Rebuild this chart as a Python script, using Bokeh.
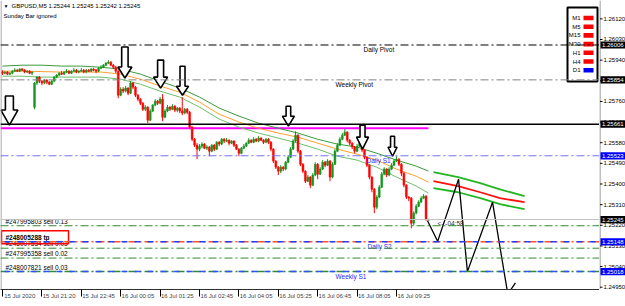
import numpy as np
from bokeh.plotting import figure
from bokeh.layouts import row
from bokeh.models import Range1d, LinearAxis, FixedTicker, Span
from bokeh.core.properties import value
from bokeh.embed import file_html
from bokeh.resources import INLINE

# ---------------- data ----------------
symbol_title = "GBPUSD,M5  1.25244 1.25245 1.25242 1.25245"
indicator_note = "Sunday Bar ignored"

time_tick_bars = [0, 16, 32, 48, 64, 80, 96, 112, 128, 144, 160]
time_tick_labels = ["15 Jul 2020", "15 Jul 21:20", "15 Jul 22:45", "16 Jul 00:05",
                    "16 Jul 01:25", "16 Jul 02:45", "16 Jul 04:05", "16 Jul 05:25",
                    "16 Jul 06:45", "16 Jul 08:05", "16 Jul 09:25"]
price_ticks = [1.26120, 1.26030, 1.25940, 1.25850, 1.25760, 1.25670, 1.25580,
               1.25490, 1.25400, 1.25310, 1.25220, 1.25130, 1.25040, 1.24950]

closes = [
    1.25883, 1.25888, 1.25879, 1.25883, 1.25892, 1.25896, 1.25892, 1.25901, 1.25896, 1.25888,
    1.25892, 1.25883, 1.25888, 1.25840, 1.25866, 1.25848, 1.25840, 1.25853, 1.25844, 1.25835,
    1.25848, 1.25866, 1.25875, 1.25883, 1.25879, 1.25888, 1.25892, 1.25883, 1.25892, 1.25896,
    1.25888, 1.25892, 1.25896, 1.25888, 1.25896, 1.25892, 1.25901, 1.25896, 1.25892, 1.25905,
    1.25909, 1.25918, 1.25927, 1.25931, 1.25918, 1.25909, 1.25892, 1.25787, 1.25813, 1.25805,
    1.25818, 1.25796, 1.25840, 1.25822, 1.25787, 1.25770, 1.25752, 1.25726, 1.25735, 1.25678,
    1.25718, 1.25744, 1.25761, 1.25752, 1.25770, 1.25691, 1.25718, 1.25735, 1.25726, 1.25739,
    1.25722, 1.25731, 1.25718, 1.25709, 1.25726, 1.25713, 1.25648, 1.25595, 1.25569, 1.25552,
    1.25565, 1.25574, 1.25556, 1.25561, 1.25543, 1.25569, 1.25552, 1.25582, 1.25574, 1.25595,
    1.25587, 1.25591, 1.25578, 1.25587, 1.25569, 1.25552, 1.25534, 1.25556, 1.25565, 1.25578,
    1.25591, 1.25582, 1.25595, 1.25587, 1.25600, 1.25591, 1.25582, 1.25595, 1.25582, 1.25552,
    1.25500, 1.25473, 1.25456, 1.25473, 1.25465, 1.25495, 1.25517, 1.25552, 1.25587, 1.25613,
    1.25543, 1.25486, 1.25456, 1.25412, 1.25430, 1.25395, 1.25439, 1.25486, 1.25443, 1.25465,
    1.25495, 1.25482, 1.25500, 1.25430, 1.25486, 1.25543, 1.25569, 1.25595, 1.25613, 1.25626,
    1.25591, 1.25578, 1.25561, 1.25543, 1.25565, 1.25578, 1.25548, 1.25517, 1.25482, 1.25430,
    1.25377, 1.25299, 1.25343, 1.25386, 1.25443, 1.25465, 1.25439, 1.25465, 1.25482, 1.25500,
    1.25508, 1.25486, 1.25447, 1.25395, 1.25343, 1.25338, 1.25229, 1.25273, 1.25303, 1.25321,
    1.25338, 1.25347, 1.25244, 1.25245]
highs = [
    1.25896, 1.25892, 1.25892, 1.25888, 1.25896, 1.25905, 1.25901, 1.25905, 1.25905, 1.25901,
    1.25896, 1.25896, 1.25892, 1.25844, 1.25870, 1.25870, 1.25853, 1.25857, 1.25857, 1.25848,
    1.25853, 1.25870, 1.25879, 1.25888, 1.25892, 1.25892, 1.25901, 1.25896, 1.25896, 1.25905,
    1.25901, 1.25896, 1.25905, 1.25901, 1.25901, 1.25901, 1.25905, 1.25905, 1.25901, 1.25909,
    1.25918, 1.25923, 1.25931, 1.25940, 1.25936, 1.25923, 1.25914, 1.25896, 1.25822, 1.25822,
    1.25827, 1.25822, 1.25848, 1.25844, 1.25827, 1.25792, 1.25774, 1.25757, 1.25744, 1.25739,
    1.25726, 1.25748, 1.25770, 1.25766, 1.25779, 1.25792, 1.25726, 1.25744, 1.25739, 1.25748,
    1.25744, 1.25735, 1.25735, 1.25779, 1.25731, 1.25731, 1.25718, 1.25652, 1.25600, 1.25578,
    1.25574, 1.25582, 1.25578, 1.25569, 1.25565, 1.25574, 1.25574, 1.25587, 1.25587, 1.25600,
    1.25600, 1.25600, 1.25595, 1.25591, 1.25591, 1.25574, 1.25556, 1.25561, 1.25574, 1.25582,
    1.25600, 1.25595, 1.25604, 1.25600, 1.25609, 1.25604, 1.25595, 1.25600, 1.25600, 1.25587,
    1.25556, 1.25504, 1.25478, 1.25482, 1.25478, 1.25500, 1.25526, 1.25561, 1.25595, 1.25630,
    1.25617, 1.25548, 1.25491, 1.25460, 1.25439, 1.25434, 1.25447, 1.25495, 1.25491, 1.25473,
    1.25504, 1.25500, 1.25508, 1.25504, 1.25495, 1.25552, 1.25578, 1.25604, 1.25622, 1.25639,
    1.25630, 1.25595, 1.25582, 1.25565, 1.25574, 1.25582, 1.25582, 1.25552, 1.25521, 1.25486,
    1.25434, 1.25382, 1.25351, 1.25395, 1.25452, 1.25473, 1.25469, 1.25473, 1.25491, 1.25508,
    1.25521, 1.25513, 1.25491, 1.25452, 1.25399, 1.25347, 1.25343, 1.25281, 1.25312, 1.25329,
    1.25347, 1.25356, 1.25351, 1.25245]
lows = [
    1.25875, 1.25879, 1.25875, 1.25875, 1.25879, 1.25888, 1.25888, 1.25888, 1.25892, 1.25883,
    1.25883, 1.25879, 1.25875, 1.25726, 1.25831, 1.25840, 1.25831, 1.25835, 1.25835, 1.25831,
    1.25831, 1.25844, 1.25861, 1.25870, 1.25875, 1.25875, 1.25883, 1.25879, 1.25879, 1.25888,
    1.25883, 1.25883, 1.25888, 1.25883, 1.25883, 1.25888, 1.25888, 1.25892, 1.25883, 1.25888,
    1.25901, 1.25905, 1.25914, 1.25923, 1.25914, 1.25901, 1.25883, 1.25774, 1.25783, 1.25796,
    1.25800, 1.25787, 1.25792, 1.25813, 1.25779, 1.25761, 1.25744, 1.25718, 1.25718, 1.25665,
    1.25674, 1.25713, 1.25739, 1.25744, 1.25748, 1.25674, 1.25687, 1.25713, 1.25718, 1.25722,
    1.25713, 1.25713, 1.25709, 1.25700, 1.25704, 1.25704, 1.25639, 1.25587, 1.25561, 1.25508,
    1.25543, 1.25556, 1.25552, 1.25548, 1.25521, 1.25539, 1.25543, 1.25548, 1.25565, 1.25569,
    1.25578, 1.25582, 1.25569, 1.25574, 1.25561, 1.25548, 1.25521, 1.25530, 1.25552, 1.25561,
    1.25574, 1.25578, 1.25578, 1.25582, 1.25582, 1.25587, 1.25574, 1.25578, 1.25574, 1.25543,
    1.25491, 1.25465, 1.25439, 1.25447, 1.25456, 1.25460, 1.25491, 1.25513, 1.25548, 1.25582,
    1.25534, 1.25478, 1.25447, 1.25404, 1.25408, 1.25382, 1.25391, 1.25434, 1.25421, 1.25439,
    1.25460, 1.25473, 1.25478, 1.25412, 1.25425, 1.25482, 1.25539, 1.25565, 1.25591, 1.25609,
    1.25582, 1.25569, 1.25552, 1.25534, 1.25539, 1.25561, 1.25539, 1.25508, 1.25473, 1.25421,
    1.25364, 1.25273, 1.25290, 1.25338, 1.25382, 1.25438, 1.25430, 1.25434, 1.25460, 1.25478,
    1.25495, 1.25478, 1.25434, 1.25386, 1.25334, 1.25325, 1.25207, 1.25220, 1.25268, 1.25299,
    1.25316, 1.25334, 1.25240, 1.25242]
first_open = 1.25888
gap_opens = {13: 1.25735}     # bars that opened away from the previous close

ma_bars = [0, 8, 16, 24, 32, 40, 48, 56, 64, 72, 80, 88, 96, 104, 112, 120, 128,
           136, 144, 152, 160, 168, 173]
ma_upper = [1.25914, 1.25918, 1.25918, 1.25914, 1.25914, 1.25909, 1.25901, 1.25879,
            1.25848, 1.25818, 1.25779, 1.25731, 1.25696, 1.25665, 1.25643, 1.25622,
            1.25595, 1.25574, 1.25561, 1.25534, 1.25504, 1.25478, 1.25456]
ma_mid = [1.25892, 1.25892, 1.25890, 1.25888, 1.25888, 1.25888, 1.25879, 1.25857,
          1.25827, 1.25800, 1.25757, 1.25704, 1.25670, 1.25643, 1.25622, 1.25604,
          1.25578, 1.25552, 1.25530, 1.25504, 1.25465, 1.25434, 1.25408]
ma_lower = [1.25870, 1.25870, 1.25866, 1.25866, 1.25866, 1.25866, 1.25857, 1.25835,
            1.25805, 1.25779, 1.25735, 1.25683, 1.25648, 1.25622, 1.25600, 1.25578,
            1.25552, 1.25521, 1.25504, 1.25473, 1.25430, 1.25391, 1.25360]

proj_bars = [175, 185, 194, 202, 212]
proj_upper = [1.25452, 1.25430, 1.25404, 1.25377, 1.25347]
proj_mid = [1.25412, 1.25391, 1.25364, 1.25338, 1.25321]
proj_lower = [1.25382, 1.25364, 1.25338, 1.25312, 1.25290]

daily_pivot = 1.26006
weekly_pivot = 1.25854
resistance_level = 1.25661
trend_level = 1.25643
daily_s1 = 1.25523
bid_price = 1.25245
daily_s2 = 1.25148
weekly_s1 = 1.25018

order_levels = [1.25218, 1.25148, 1.25120, 1.25077, 1.25018]
order_labels = ["#247995803 sell 0.13", "#248005288 tp", "#248007534 sell 0.03",
                "#247995358 sell 0.02", "#248007821 sell 0.03"]

axis_marks = [1.26006, 1.25854, 1.25661, 1.25523, 1.25245, 1.25148, 1.25018]
axis_mark_kinds = ["pivot", "pivot", "line", "level", "bid", "level", "level"]

tf_names = ["M1", "M5", "M15", "M30", "H1", "H4", "D1"]
tf_state = ["down", "down", "down", "down", "down", "down", "up"]

timer_text = "<- -04:58"

zig_bars = [172.6, 176.7, 185.2, 188.8, 199.0, 205.2, 208.3]
zig_prices = [1.25240, 1.25150, 1.25421, 1.25018, 1.25320, 1.24920, 1.24969]

arrow_bars = [49.7, 64.2, 73.1, 2.8, 116.1, 146.2, 158.4]
arrow_tips = [1.25862, 1.25818, 1.25787, 1.25657, 1.25652, 1.25552, 1.25521]

# ---------------- geometry ----------------
PXB = 2.4625                    # pixels per bar
MAIN_W, SCALE_W, H = 599, 26, 306
FRAME_H = 289
X0 = -2 / PXB
X1 = X0 + MAIN_W / PXB
Y_TOP, Y_BOT = 1.26200, 1.24940
PXP = FRAME_H / (Y_TOP - Y_BOT)  # pixels per price unit


def bx(px):
    return X0 + px / PXB


def py(px):
    return Y_TOP - px / PXP


def dbx(px):
    return px / PXB


def dpy(px):
    return px / PXP


FONT_NAME = "Liberation Sans"
FONT = value(FONT_NAME)

yr = Range1d(Y_BOT, Y_TOP)
p = figure(width=MAIN_W, height=H, x_range=Range1d(X0, X1), y_range=yr,
           x_axis_type=None, y_axis_type=None, output_backend="svg",
           toolbar_location=None, min_border_left=0, min_border_top=0,
           min_border_right=0, min_border_bottom=H - FRAME_H)
p.outline_line_color = None
p.background_fill_color = "white"
p.border_fill_color = "white"

centers = [b + 7 for b in time_tick_bars]
xax = LinearAxis(ticker=FixedTicker(ticks=centers, minor_ticks=time_tick_bars),
                 major_label_overrides={c: t for c, t in zip(centers, time_tick_labels)},
                 major_label_text_font_size="6px", major_label_text_font=FONT_NAME,
                 major_tick_out=0, major_tick_in=0, minor_tick_out=7, minor_tick_in=0,
                 minor_tick_line_color="black", major_label_standoff=-4,
                 axis_line_color="#303030")
p.add_layout(xax, "below")

# left border
p.add_layout(Span(location=X0 + dbx(0.5), dimension="height", line_color="#909090", line_width=1))

# ---------------- levels ----------------
DD = "8 3 2 3"
p.add_layout(Span(location=daily_pivot, dimension="width", line_color="black", line_dash=DD))
p.add_layout(Span(location=weekly_pivot, dimension="width", line_color="#808080", line_dash=DD))
p.add_layout(Span(location=resistance_level, dimension="width", line_color="black", line_width=1.5))
p.add_layout(Span(location=daily_s1, dimension="width", line_color="#7070ff", line_dash=DD))
p.add_layout(Span(location=bid_price, dimension="width", line_color="#c0c0c0"))
p.add_layout(Span(location=order_levels[0], dimension="width", line_color="#2e8b2e", line_dash=DD))
p.add_layout(Span(location=daily_s2, dimension="width", line_color="#ff5020", line_dash=DD, line_width=1.5))
p.add_layout(Span(location=daily_s2, dimension="width", line_color="#2040ff", line_dash="6 7",
                  line_dash_offset=9, line_width=1.5))
p.add_layout(Span(location=order_levels[2], dimension="width", line_color="#2e8b2e", line_dash=DD))
p.add_layout(Span(location=order_levels[3], dimension="width", line_color="#2e8b2e", line_dash=DD))
p.add_layout(Span(location=weekly_s1, dimension="width", line_color="#2e8b2e", line_dash=DD, line_width=1.5))
p.add_layout(Span(location=weekly_s1, dimension="width", line_color="#3050ff", line_dash="6 7",
                  line_dash_offset=9, line_width=1.5))

n = len(closes)
p.line([X0, n - 1], [trend_level, trend_level], line_color="#ff00ff", line_width=2)

# ---------------- moving average bands ----------------
p.line(ma_bars, ma_upper, line_color="#3a9a3a", line_width=1)
p.line(ma_bars, ma_mid, line_color="#ffa030", line_width=1)
p.line(ma_bars, ma_lower, line_color="#6cbf6c", line_width=1)
p.line(proj_bars, proj_upper, line_color="#22b622", line_width=1.8)
p.line(proj_bars, proj_mid, line_color="#ff1010", line_width=1.8)
p.line(proj_bars, proj_lower, line_color="#22b622", line_width=1.8)

# ---------------- candles ----------------
opens = [first_open] + closes[:-1]
for k, v in gap_opens.items():
    opens[k] = v
o = np.array(opens)
c = np.array(closes)
idx = np.arange(n)
colors = np.where(c > o, "#14961e", np.where(c < o, "#ff0000", "#909090"))
top = np.maximum(o, c)
bot = np.minimum(o, c)
mid = (top + bot) / 2
thin = (top - bot) < dpy(1)
top = np.where(thin, mid + dpy(0.5), top)
bot = np.where(thin, mid - dpy(0.5), bot)
p.segment(idx, lows, idx, highs, line_color=list(colors), line_width=1)
p.vbar(x=idx, width=0.75, top=top, bottom=bot, fill_color=list(colors),
       line_color=list(colors), line_width=0.5)

# ---------------- hand-drawn marks ----------------
p.line(zig_bars, zig_prices, line_color="black", line_width=1.3)

arrow_len = [31, 28, 29, 29, 20, 24, 20]
arrow_head = [11, 11, 9, 15, 10, 12, 9]
arrow_hw = [7, 7, 6, 8.5, 6, 6, 4.5]
arrow_sw = [3.2, 3, 2.5, 4, 2.3, 2.5, 2]
axs, ays = [], []
for b, t, L, hh, hw, sw in zip(arrow_bars, arrow_tips, arrow_len, arrow_head, arrow_hw, arrow_sw):
    axs.append([b, b - dbx(hw), b - dbx(sw), b - dbx(sw), b + dbx(sw), b + dbx(sw), b + dbx(hw)])
    ays.append([t, t + dpy(hh), t + dpy(hh), t + dpy(L), t + dpy(L), t + dpy(hh), t + dpy(hh)])
p.patches(axs, ays, fill_color="white", line_color="black", line_width=1.6)

# ---------------- texts ----------------
def txt(fig, x, y, s, size="6px", color="black", align="left", baseline="middle", style="normal"):
    fig.text([x], [y], text=[s], text_font=FONT, text_font_size=size, text_color=color,
             text_align=align, text_baseline=baseline, text_font_style=style)


txt(p, bx(3), py(5.5), "\u25BC", size="5px")
txt(p, bx(11), py(5.5), symbol_title)
txt(p, bx(3), py(15), indicator_note)

txt(p, bx(363), daily_pivot - dpy(1.5), "Daily Pivot", size="6.5px", baseline="top")
txt(p, bx(335), weekly_pivot - dpy(1.5), "Weekly Pivot", size="6.5px", baseline="top")
txt(p, bx(366), daily_s1 - dpy(1.5), "Daily S1", size="6.5px", color="#2a2aff", baseline="top")
txt(p, bx(367), daily_s2 - dpy(1.5), "Daily S2", size="6.5px", color="#2a2aff", baseline="top")
txt(p, bx(335), weekly_s1 - dpy(1.0), "Weekly S1", size="6.5px", color="#2a2aff", baseline="top")

for lvl, lab in zip(order_levels, order_labels):
    txt(p, bx(5), lvl + dpy(1), lab, size="6.5px", baseline="bottom",
        style="bold" if lab.endswith("tp") else "normal")
tp_level = order_levels[1]
p.quad(left=[bx(1)], right=[bx(68)], top=[tp_level + dpy(11)], bottom=[tp_level - dpy(2)],
       fill_color=None, line_color="#ff0000", line_width=1.5)

txt(p, zig_bars[0] + dbx(10), bid_price - dpy(3.5), timer_text, size="6.5px", color="#303030")

# timeframe panel
p.quad(left=[bx(567)], right=[bx(597)], top=[py(7)], bottom=[py(81)],
       fill_color=None, line_color="black", line_width=2)
for k, (nm, st) in enumerate(zip(tf_names, tf_state)):
    yy = py(17.5 + 8.7 * k)
    txt(p, bx(580), yy, nm, align="right")
    p.quad(left=[bx(583)], right=[bx(593)], top=[yy + dpy(2.3)], bottom=[yy - dpy(2.3)],
           fill_color="#ff0000" if st == "down" else "#0000ff", line_color=None)

# ---------------- price scale (right strip, shares the price range) ----------------
s = figure(width=SCALE_W, height=H, x_range=Range1d(0, SCALE_W), y_range=yr,
           x_axis_type=None, y_axis_type=None, output_backend="svg",
           toolbar_location=None, min_border_left=0, min_border_top=0,
           min_border_right=0, min_border_bottom=H - FRAME_H)
s.outline_line_color = None
s.background_fill_color = "white"
s.border_fill_color = "white"
s.segment([0.5], [Y_BOT], [0.5], [Y_TOP], line_color="#808080", line_width=1)
s.segment([0.5] * len(price_ticks), price_ticks, [3] * len(price_ticks), price_ticks,
          line_color="black", line_width=1)
s.text([4] * len(price_ticks), price_ticks, text=[f"{t:.5f}" for t in price_ticks],
       text_font=FONT, text_font_size="6px", text_color="black", text_baseline="middle")
mark_colors = ["#0000ff" if k == "level" else "black" for k in axis_mark_kinds]
s.quad(left=[1] * len(axis_marks), right=[SCALE_W] * len(axis_marks),
       top=[m + dpy(3.6) for m in axis_marks], bottom=[m - dpy(3.6) for m in axis_marks],
       fill_color=mark_colors, line_color=None)
s.text([2.5] * len(axis_marks), axis_marks, text=[f"{m:.5f}" for m in axis_marks],
       text_font=FONT, text_font_size="6px", text_color="white", text_baseline="middle")

layout = row(p, s, spacing=0)
open("out.html", "w").write(file_html(layout, INLINE))
